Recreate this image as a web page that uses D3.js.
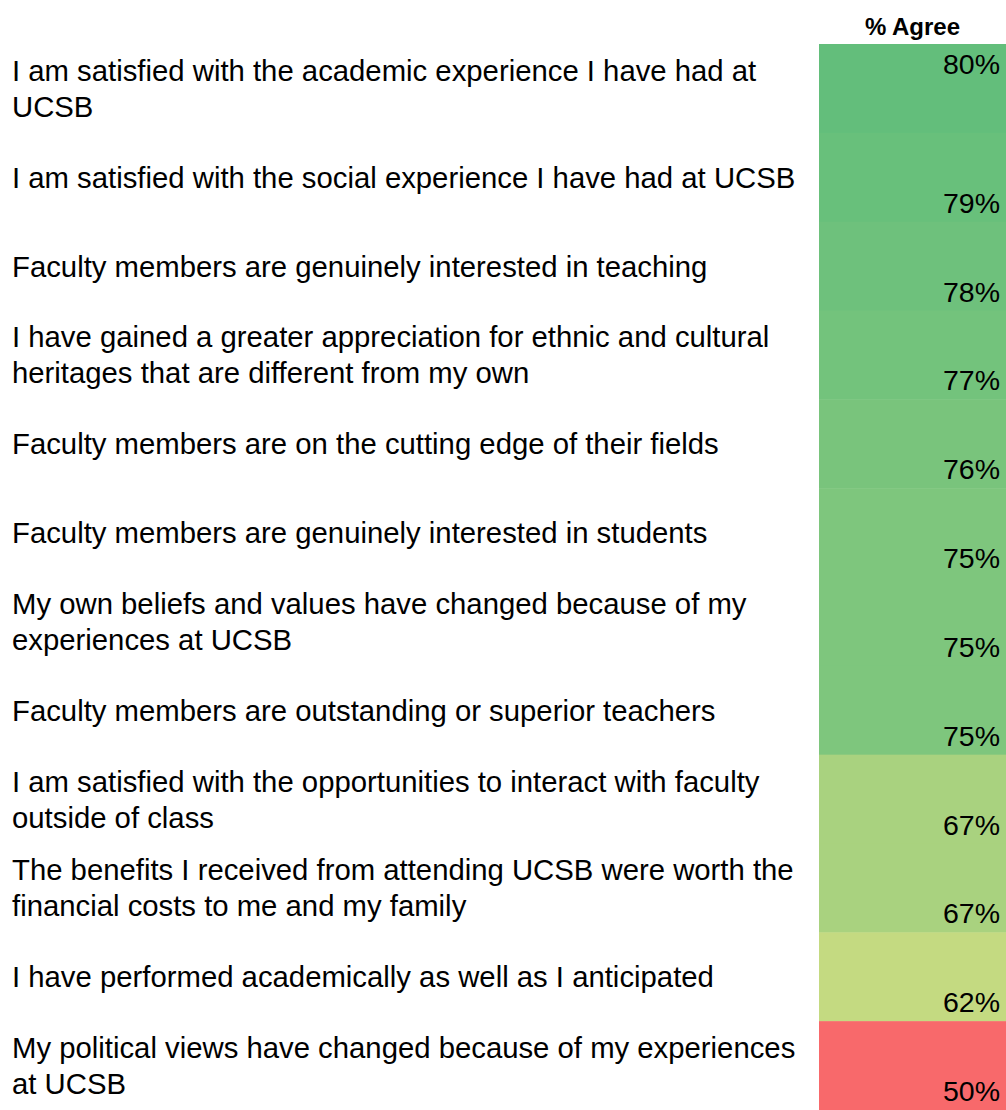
<!DOCTYPE html>
<html>
<head>
<meta charset="utf-8">
<script src="https://cdn.jsdelivr.net/npm/d3@7"></script>
<style>
  body { margin: 0; background: #fff; }
  svg { display: block; font-family: "Liberation Sans", Arial, sans-serif; }
</style>
</head>
<body>
<svg id="chart"></svg>
<script>
// statements, already broken into lines as in the sheet
const statements = [
	["I am satisfied with the academic experience I have had at", "UCSB"],
	["I am satisfied with the social experience I have had at UCSB"],
	["Faculty members are genuinely interested in teaching"],
	["I have gained a greater appreciation for ethnic and cultural", "heritages that are different from my own"],
	["Faculty members are on the cutting edge of their fields"],
	["Faculty members are genuinely interested in students"],
	["My own beliefs and values have changed because of my", "experiences at UCSB"],
	["Faculty members are outstanding or superior teachers"],
	["I am satisfied with the opportunities to interact with faculty", "outside of class"],
	["The benefits I received from attending UCSB were worth the", "financial costs to me and my family"],
	["I have performed academically as well as I anticipated"],
	["My political views have changed because of my experiences", "at UCSB"]
];
const pctAgree = [80, 79, 78, 77, 76, 75, 75, 75, 67, 67, 62, 50];
const header = "% Agree";

var W = 1006, H = 1110;
var fontSize = 29.3, lineH = 36, capH = fontSize * 0.716;

const svg = d3.select("#chart")
	.attr("width", W)
	.attr("height", H);

// one band per statement
var y = d3.scaleBand()
	.domain(d3.range(statements.length))
	.range([44, H])
	.padding(0);

// excel style 3 colour scale
var color = d3.scaleLinear()
	.domain([50, 51, 80])
	.range(["#F8696B", "#FFEB84", "#63BE7B"]);

var cellX = 819, cellW = W - cellX;

svg.append("text")
	.attr("x", cellX + cellW / 2)
	.attr("y", 35)
	.attr("text-anchor", "middle")
	.attr("font-weight", "bold")
	.attr("font-size", 24)
	.text(header);

svg.append("g")
	.selectAll("rect")
	.data(pctAgree)
	.join("rect")
	.attr("x", cellX)
	.attr("y", (d, i) => y(i))
	.attr("width", cellW)
	.attr("height", y.bandwidth() + 0.5)
	.attr("fill", d => color(d));

// values: first row sits at top of its cell, the rest at the bottom
svg.append("g")
	.selectAll("text")
	.data(pctAgree)
	.join("text")
	.attr("x", W - 6)
	.attr("y", (d, i) => i === 0 ? y(i) + 30 : y(i) + y.bandwidth() - 9)
	.attr("text-anchor", "end")
	.attr("font-size", 28.5)
	.attr("fill", "#000")
	.text(d => d + "%");

// labels, vertically centred in the row
const labels = svg.append("g")
	.selectAll("text")
	.data(statements)
	.join("text")
	.attr("font-size", fontSize)
	.attr("fill", "#000")
	.attr("y", (d, i) => {
		var block = capH + (d.length - 1) * lineH;
		return y(i) + y.bandwidth() / 2 - block / 2 + capH;
	});

labels.selectAll("tspan")
	.data(d => d)
	.join("tspan")
	.attr("x", 12)
	.attr("dy", (d, i) => i === 0 ? 0 : lineH)
	.text(d => d);
</script>
</body>
</html>
